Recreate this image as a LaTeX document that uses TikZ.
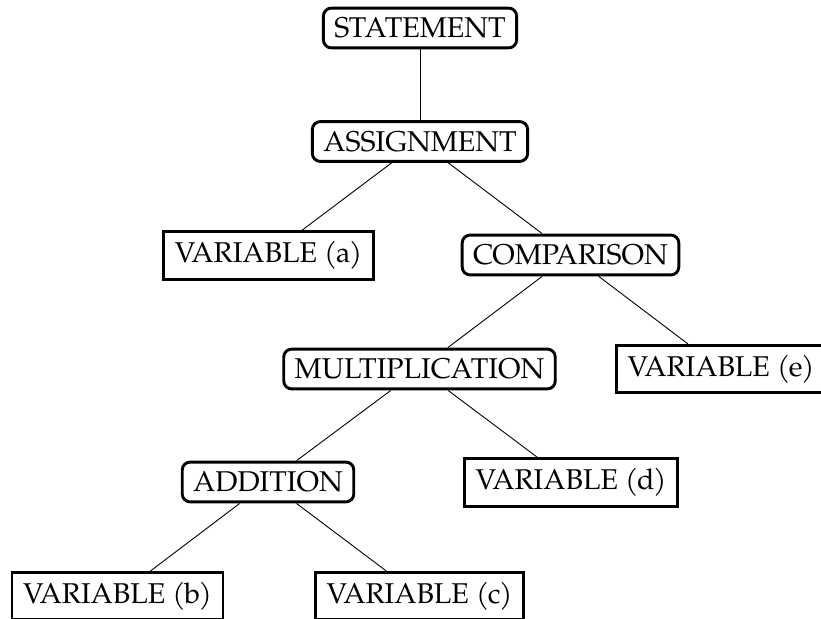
\documentclass[tikz,border=0pt]{standalone}
\usepackage{fontspec}
\setmainfont{TeX Gyre Pagella}
\newcommand{\pv}[1]{(\kern-1.2pt#1\kern-1.2pt)}
\begin{document}
\begin{tikzpicture}[x=1pt,y=-1pt,
  every node/.style={font=\fontsize{28.6}{34}\selectfont, line width=2.9pt, draw, inner xsep=11pt, inner ysep=9.5pt},
  opbox/.style={rounded corners=8pt},
  varbox/.style={},
  link/.style={line width=0.9pt}]
\useasboundingbox (0,0) rectangle (821,618);
\node[opbox]  (st)  at (420,28)    {STATEMENT};
\node[opbox]  (as)  at (420,141.5) {ASSIGNMENT};
\node[varbox] (va)  at (268.5,255.5) {VARIABLE \pv{a}};
\node[opbox]  (cmp) at (570.5,255) {COMPARISON};
\node[opbox]  (mul) at (419.5,369) {MULTIPLICATION};
\node[varbox] (ve)  at (721,369)   {VARIABLE \pv{e}};
\node[opbox]  (add) at (268,482)   {ADDITION};
\node[varbox] (vd)  at (571,482.5) {VARIABLE \pv{d}};
\node[varbox] (vb)  at (117.5,596) {VARIABLE \pv{b}};
\node[varbox] (vc)  at (419.5,596) {VARIABLE \pv{c}};
\draw[link] (st) -- (as);
\draw[link] (as) -- (va);
\draw[link] (as) -- (cmp);
\draw[link] (cmp) -- (mul);
\draw[link] (cmp) -- (ve);
\draw[link] (mul) -- (add);
\draw[link] (mul) -- (vd);
\draw[link] (add) -- (vb);
\draw[link] (add) -- (vc);
\end{tikzpicture}
\end{document}
